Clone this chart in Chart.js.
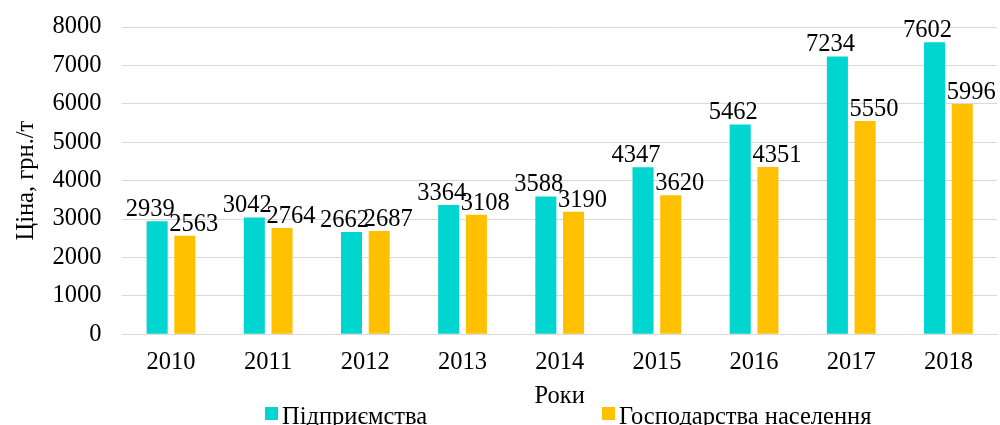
<!DOCTYPE html>
<html><head><meta charset="utf-8">
<script src="https://cdn.jsdelivr.net/npm/chart.js@4.4.0/dist/chart.umd.min.js"></script>
<style>html,body{margin:0;padding:0;background:#fff;overflow:hidden}#wrap{width:1000px;height:425px;position:relative}</style>
</head><body><div id="wrap"><canvas id="c"></canvas></div>
<script>
const categories = ['2010','2011','2012','2013','2014','2015','2016','2017','2018'];
const enterprises = [2939, 3042, 2662, 3364, 3588, 4347, 5462, 7234, 7602];
const households = [2563, 2764, 2687, 3108, 3190, 3620, 4351, 5550, 5996];
const seriesNames = ['Підприємства', 'Господарства населення'];
const seriesColors = ['#00D5D0', '#FFC000'];
const yTicks = [0,1000,2000,3000,4000,5000,6000,7000,8000];
const xTitle = 'Роки';
const yTitle = 'Ціна, грн./т';

const FONT = '"Liberation Serif", "Times New Roman", serif';
const FS = 24.5;

const labelPlugin = {
  id: 'valueLabels',
  afterDatasetsDraw(chart) {
    const ctx = chart.ctx;
    ctx.save();
    ctx.font = FS + 'px ' + FONT;
    ctx.fillStyle = '#000';
    ctx.textAlign = 'center';
    ctx.textBaseline = 'alphabetic';
    const offs = [-7, 9];
    chart.data.datasets.forEach((ds, di) => {
      const meta = chart.getDatasetMeta(di);
      meta.data.forEach((bar, i) => {
        ctx.fillText(String(ds.data[i]), bar.x + offs[di], bar.y - 5);
      });
    });
    ctx.restore();
  }
};

const legendPlugin = {
  id: 'customLegend',
  afterDraw(chart) {
    const ctx = chart.ctx;
    ctx.save();
    ctx.font = FS + 'px ' + FONT;
    ctx.textBaseline = 'alphabetic';
    ctx.textAlign = 'left';
    const starts = [265, 602];
    chart.data.datasets.forEach((ds, di) => {
      const x = starts[di];
      ctx.fillStyle = ds.backgroundColor;
      ctx.fillRect(x, 407, 13, 13);
      ctx.fillStyle = '#000';
      ctx.fillText(ds.label, x + 17, 424);
    });
    ctx.restore();
  }
};

new Chart(document.getElementById('c'), {
  type: 'bar',
  data: {
    labels: categories,
    datasets: [
      { label: seriesNames[0], data: enterprises, backgroundColor: seriesColors[0], categoryPercentage: 0.57, barPercentage: 0.76 },
      { label: seriesNames[1], data: households, backgroundColor: seriesColors[1], categoryPercentage: 0.57, barPercentage: 0.76 }
    ]
  },
  options: {
    responsive: true,
    maintainAspectRatio: false,
    animation: false,
    layout: { padding: { top: 27, right: 3, left: 0, bottom: 14 } },
    plugins: { legend: { display: false }, tooltip: { enabled: false } },
    scales: {
      x: {
        grid: { display: false, drawTicks: false },
        border: { color: '#D9D9D9', width: 1 },
        ticks: { color: '#000', font: { family: FONT, size: FS }, padding: 14, maxRotation: 0 },
        title: { display: true, text: xTitle, color: '#000', font: { family: FONT, size: FS }, padding: { top: -10, bottom: 0 } },
        afterFit(scale) { scale.paddingLeft = 0; scale.paddingRight = 0; }
      },
      y: {
        min: 0, max: 8000,
        afterBuildTicks(scale) { scale.ticks = yTicks.map(v => ({ value: v })); },
        afterFit(scale) { scale.paddingTop = 0; scale.paddingBottom = 0; },
        grid: { color: '#D9D9D9', lineWidth: 1, drawTicks: false },
        border: { display: false },
        ticks: { color: '#000', font: { family: FONT, size: FS }, padding: 21, callback: v => String(v) },
        title: { display: true, text: yTitle, color: '#000', font: { family: FONT, size: FS }, padding: { top: 12, bottom: -10 } }
      }
    }
  },
  plugins: [labelPlugin, legendPlugin]
});
</script></body></html>
